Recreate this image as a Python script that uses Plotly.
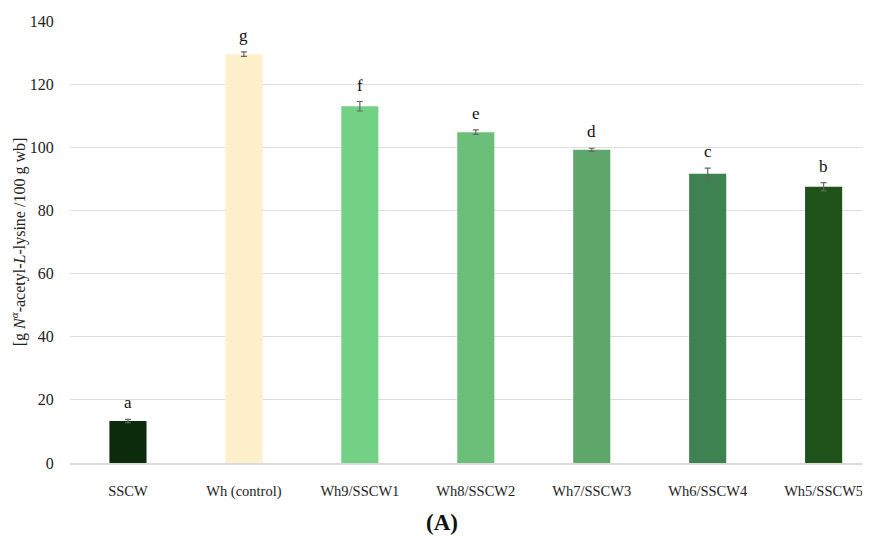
import plotly.graph_objects as go

categories = ["SSCW", "Wh (control)", "Wh9/SSCW1", "Wh8/SSCW2", "Wh7/SSCW3", "Wh6/SSCW4", "Wh5/SSCW5"]
values = [13.3, 129.5, 113.0, 104.8, 99.2, 91.6, 87.5]
errors = [0.5, 0.7, 1.5, 0.7, 0.5, 1.8, 1.3]
letters = ["a", "g", "f", "e", "d", "c", "b"]
colors = ["#0c2a0c", "#fff0cc", "#72d185", "#6bbf79", "#5ea66a", "#3d8250", "#1f5219"]
yticks = [0, 20, 40, 60, 80, 100, 120, 140]

font_family = "Liberation Serif, DejaVu Serif, serif"

fig = go.Figure()
fig.add_trace(go.Bar(
    x=categories, y=values,
    marker=dict(color=colors, line=dict(width=0)),
    width=0.32,
    error_y=dict(type="data", array=errors, visible=True, color="#666666", thickness=1.2, width=3),
    showlegend=False,
))

for c, v, e, l in zip(categories, values, errors, letters):
    fig.add_annotation(x=c, y=v + e, text=l, showarrow=False, yanchor="bottom", yshift=5,
                       font=dict(family=font_family, size=17, color="#111111"))

fig.add_annotation(x=0.5, xref="paper", y=0, yref="paper", text="<b>(A)</b>", showarrow=False,
                   xanchor="center", yanchor="middle", xshift=-28, yshift=-59,
                   font=dict(family=font_family, size=23, color="#111111"))

fig.update_layout(
    width=862, height=528,
    margin=dict(l=62, r=0, t=13, b=73),
    plot_bgcolor="white", paper_bgcolor="white",
    font=dict(family=font_family, size=15, color="#222222"),
    xaxis=dict(range=[-0.5, 6.4], showgrid=False, showline=True, linecolor="#d9d9d9", linewidth=1.5,
               automargin=False,
               ticks="outside", ticklen=14, tickcolor="rgba(0,0,0,0)", tickfont=dict(size=14.5)),
    yaxis=dict(range=[0, 140], tickvals=yticks, showgrid=True, gridcolor="#dddddd", gridwidth=1,
               automargin=False,
               zeroline=False, showline=False, ticks="outside", ticklen=12, tickcolor="rgba(0,0,0,0)",
               tickfont=dict(size=16),
               title=dict(text="[g <i>N</i><sup><i>α</i></sup>-acetyl-<i>L</i>-lysine /100 g wb]",
                          font=dict(size=16), standoff=10)),
)

fig.write_html("out.html")
